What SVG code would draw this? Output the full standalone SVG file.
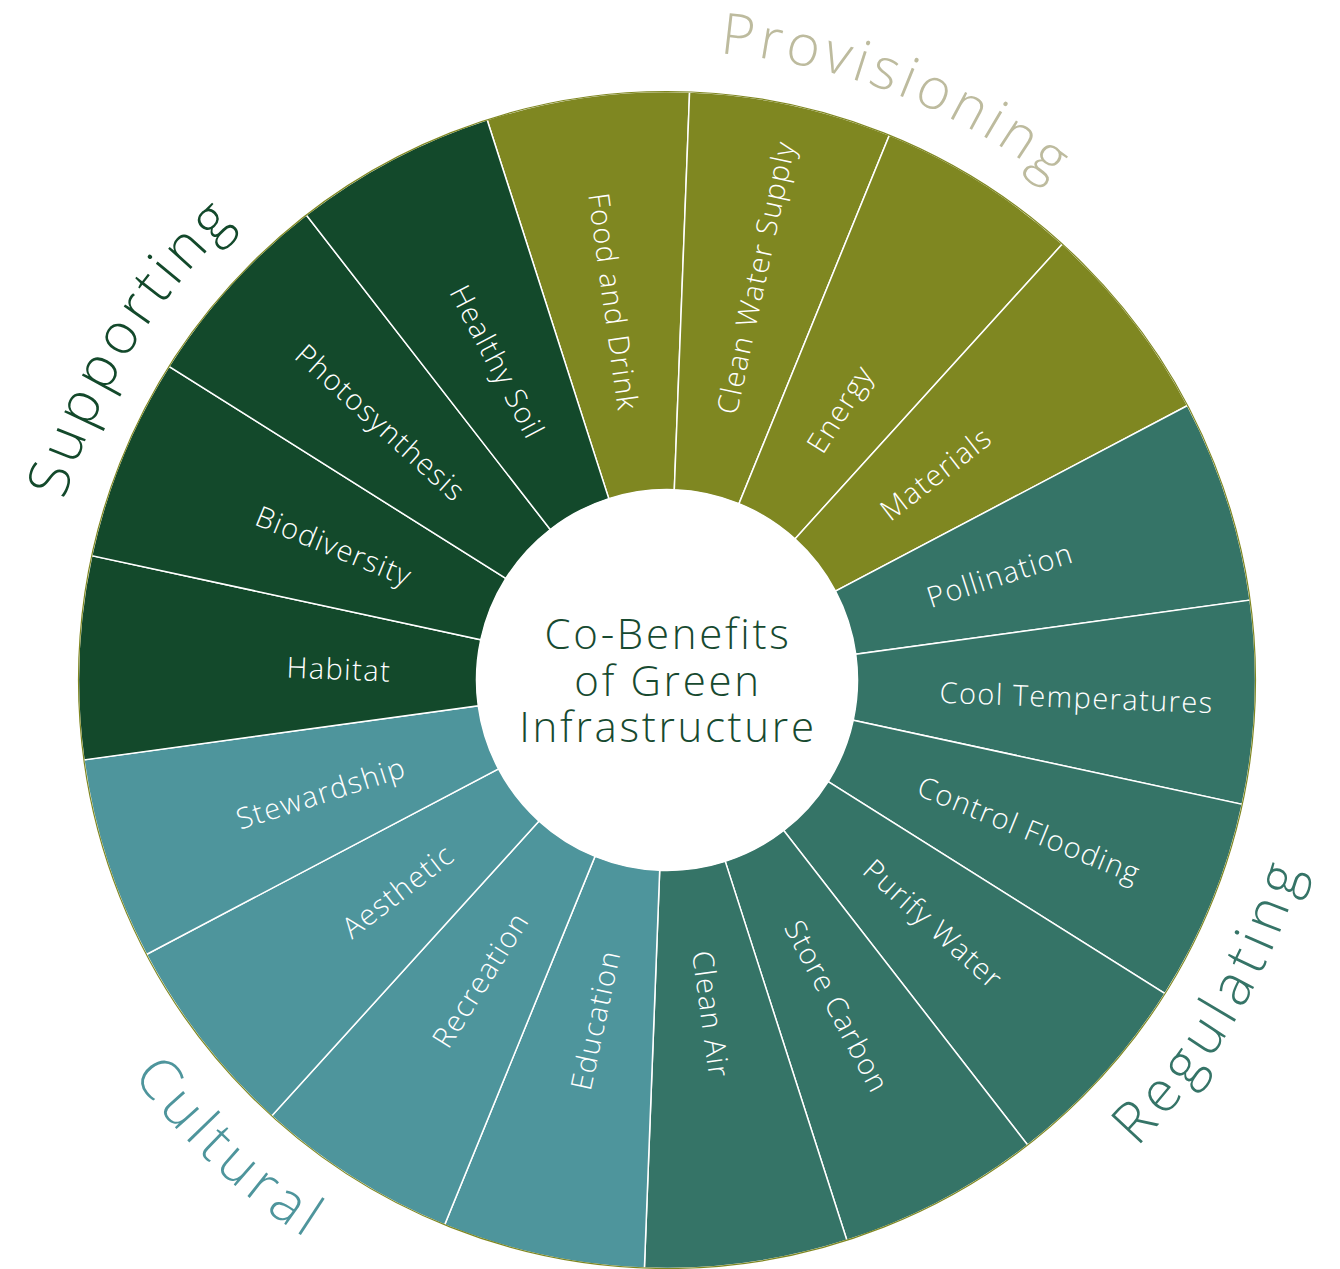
<svg xmlns="http://www.w3.org/2000/svg" width="1340" height="1269" viewBox="0 0 1340 1269">
<style>
.seg{stroke:#ffffff;stroke-width:1.5;stroke-linejoin:miter}
.prov{fill:#7F8721}.reg{fill:#357467}.cul{fill:#4E959C}.sup{fill:#13492B}
.lbl{font-family:"Open Sans","Liberation Sans",sans-serif;font-weight:300;font-size:29px;fill:#ffffff;letter-spacing:1.4px}
.cat{font-family:"Open Sans","Liberation Sans",sans-serif;font-weight:300;font-size:57px}
.ctr{font-family:"Open Sans","Liberation Sans",sans-serif;font-weight:300;font-size:42px;fill:#174A30;letter-spacing:2.7px;text-anchor:middle}
</style>
<defs>
<path id="arcProv" d="M 81.34 450.48 A 628 628 0 0 1 1252.66 909.52"/>
<path id="arcSup" d="M 335.54 1214.59 A 629 629 0 0 1 998.46 145.41"/>
<path id="arcReg" d="M 329.49 1252.98 A 665 665 0 0 0 1004.51 107.02"/>
<path id="arcCul" d="M 180.65 226.47 A 665 665 0 0 0 1153.35 1133.53"/>
</defs>
<rect width="1340" height="1269" fill="#ffffff"/>

<g id="food-and-drink"><path class="seg prov" d="M 487.10 119.67 A 588.5 588.5 0 0 1 689.59 91.93 L 674.31 489.64 A 190.5 190.5 0 0 0 608.77 498.62 Z"/><text class="lbl" text-anchor="end" dy="0.42em" transform="translate(667,680) rotate(82.2) translate(-272,0)">Food and Drink</text></g>
<g id="clean-water-supply"><path class="seg prov" d="M 689.59 91.93 A 588.5 588.5 0 0 1 889.36 135.13 L 738.98 503.62 A 190.5 190.5 0 0 0 674.31 489.64 Z"/><text class="lbl" dy="0.42em" transform="translate(667,680) rotate(-77.8) translate(273,0)">Clean Water Supply</text></g>
<g id="energy"><path class="seg prov" d="M 889.36 135.13 A 588.5 588.5 0 0 1 1062.31 244.04 L 794.96 538.88 A 190.5 190.5 0 0 0 738.98 503.62 Z"/><text class="lbl" dy="0.42em" transform="translate(667,680) rotate(-57.8) translate(273,0)">Energy</text></g>
<g id="materials"><path class="seg prov" d="M 1062.31 244.04 A 588.5 588.5 0 0 1 1187.58 405.53 L 835.51 591.15 A 190.5 190.5 0 0 0 794.96 538.88 Z"/><text class="lbl" dy="0.42em" transform="translate(667,680) rotate(-37.8) translate(273,0)">Materials</text></g>
<g id="pollination"><path class="seg reg" d="M 1187.58 405.53 A 588.5 588.5 0 0 1 1250.06 600.13 L 855.74 654.15 A 190.5 190.5 0 0 0 835.51 591.15 Z"/><text class="lbl" dy="0.42em" transform="translate(667,680) rotate(-17.8) translate(273,0)">Pollination</text></g>
<g id="cool-temperatures"><path class="seg reg" d="M 1250.06 600.13 A 588.5 588.5 0 0 1 1242.21 804.36 L 853.20 720.26 A 190.5 190.5 0 0 0 855.74 654.15 Z"/><text class="lbl" dy="0.42em" transform="translate(667,680) rotate(2.2) translate(273,0)">Cool Temperatures</text></g>
<g id="control-flooding"><path class="seg reg" d="M 1242.21 804.36 A 588.5 588.5 0 0 1 1164.99 993.60 L 828.20 781.51 A 190.5 190.5 0 0 0 853.20 720.26 Z"/><text class="lbl" dy="0.42em" transform="translate(667,680) rotate(22.2) translate(273,0)">Control Flooding</text></g>
<g id="purify-water"><path class="seg reg" d="M 1164.99 993.60 A 588.5 588.5 0 0 1 1027.70 1145.01 L 783.76 830.52 A 190.5 190.5 0 0 0 828.20 781.51 Z"/><text class="lbl" dy="0.42em" transform="translate(667,680) rotate(42.2) translate(273,0)">Purify Water</text></g>
<g id="store-carbon"><path class="seg reg" d="M 1027.70 1145.01 A 588.5 588.5 0 0 1 846.90 1240.33 L 725.23 861.38 A 190.5 190.5 0 0 0 783.76 830.52 Z"/><text class="lbl" dy="0.42em" transform="translate(667,680) rotate(62.2) translate(273,0)">Store Carbon</text></g>
<g id="clean-air"><path class="seg reg" d="M 846.90 1240.33 A 588.5 588.5 0 0 1 644.41 1268.07 L 659.69 870.36 A 190.5 190.5 0 0 0 725.23 861.38 Z"/><text class="lbl" dy="0.42em" transform="translate(667,680) rotate(82.2) translate(273,0)">Clean Air</text></g>
<g id="education"><path class="seg cul" d="M 644.41 1268.07 A 588.5 588.5 0 0 1 444.64 1224.87 L 595.02 856.38 A 190.5 190.5 0 0 0 659.69 870.36 Z"/><text class="lbl" text-anchor="end" dy="0.42em" transform="translate(667,680) rotate(282.2) translate(-276,0)">Education</text></g>
<g id="recreation"><path class="seg cul" d="M 444.64 1224.87 A 588.5 588.5 0 0 1 271.69 1115.96 L 539.04 821.12 A 190.5 190.5 0 0 0 595.02 856.38 Z"/><text class="lbl" text-anchor="end" dy="0.42em" transform="translate(667,680) rotate(302.2) translate(-276,0)">Recreation</text></g>
<g id="aesthetic"><path class="seg cul" d="M 271.69 1115.96 A 588.5 588.5 0 0 1 146.42 954.47 L 498.49 768.85 A 190.5 190.5 0 0 0 539.04 821.12 Z"/><text class="lbl" text-anchor="end" dy="0.42em" transform="translate(667,680) rotate(322.2) translate(-276,0)">Aesthetic</text></g>
<g id="stewardship"><path class="seg cul" d="M 146.42 954.47 A 588.5 588.5 0 0 1 83.94 759.87 L 478.26 705.85 A 190.5 190.5 0 0 0 498.49 768.85 Z"/><text class="lbl" text-anchor="end" dy="0.42em" transform="translate(667,680) rotate(342.2) translate(-276,0)">Stewardship</text></g>
<g id="habitat"><path class="seg sup" d="M 83.94 759.87 A 588.5 588.5 0 0 1 91.79 555.64 L 480.80 639.74 A 190.5 190.5 0 0 0 478.26 705.85 Z"/><text class="lbl" text-anchor="end" dy="0.42em" transform="translate(667,680) rotate(2.2) translate(-276,0)">Habitat</text></g>
<g id="biodiversity"><path class="seg sup" d="M 91.79 555.64 A 588.5 588.5 0 0 1 169.01 366.40 L 505.80 578.49 A 190.5 190.5 0 0 0 480.80 639.74 Z"/><text class="lbl" text-anchor="end" dy="0.42em" transform="translate(667,680) rotate(22.2) translate(-276,0)">Biodiversity</text></g>
<g id="photosynthesis"><path class="seg sup" d="M 169.01 366.40 A 588.5 588.5 0 0 1 306.30 214.99 L 550.24 529.48 A 190.5 190.5 0 0 0 505.80 578.49 Z"/><text class="lbl" text-anchor="end" dy="0.42em" transform="translate(667,680) rotate(42.2) translate(-276,0)">Photosynthesis</text></g>
<g id="healthy-soil"><path class="seg sup" d="M 306.30 214.99 A 588.5 588.5 0 0 1 487.10 119.67 L 608.77 498.62 A 190.5 190.5 0 0 0 550.24 529.48 Z"/><text class="lbl" text-anchor="end" dy="0.42em" transform="translate(667,680) rotate(62.2) translate(-276,0)">Healthy Soil</text></g>

<circle cx="667" cy="680" r="588.5" fill="none" stroke="#7F8721" stroke-width="1.2"/>

<g id="center">
<circle cx="667" cy="680" r="190.5" fill="#ffffff"/>
<text class="ctr" x="668" y="649">Co-Benefits</text>
<text class="ctr" x="668" y="696">of Green</text>
<text class="ctr" x="668" y="742">Infrastructure</text>
</g>

<g id="label-provisioning"><text class="cat" fill="#BDBB9E" letter-spacing="4.5"><textPath href="#arcProv" startOffset="50%" text-anchor="middle">Provisioning</textPath></text></g>
<g id="label-supporting"><text class="cat" fill="#13492B" letter-spacing="5"><textPath href="#arcSup" startOffset="50%" text-anchor="middle">Supporting</textPath></text></g>
<g id="label-regulating"><text class="cat" fill="#357467" letter-spacing="6.5"><textPath href="#arcReg" startOffset="50%" text-anchor="middle">Regulating</textPath></text></g>
<g id="label-cultural"><text class="cat" fill="#4E959C" letter-spacing="5.5"><textPath href="#arcCul" startOffset="50%" text-anchor="middle">Cultural</textPath></text></g>
<g id="connectors"/>
</svg>
